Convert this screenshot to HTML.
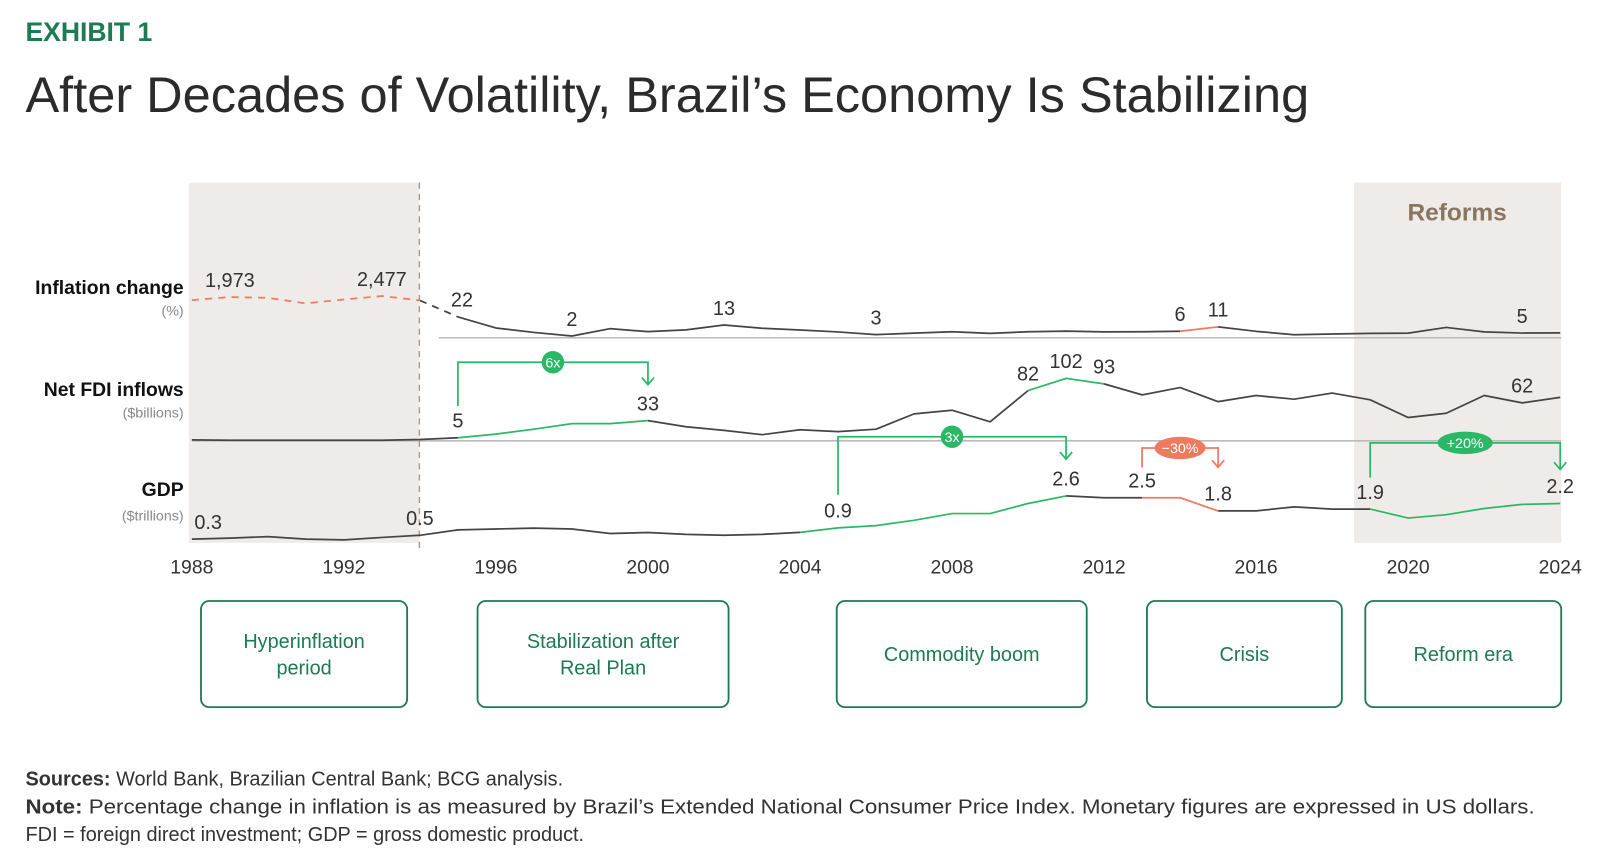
<!DOCTYPE html>
<html><head><meta charset="utf-8"><style>
html,body{margin:0;padding:0;background:#fff;}
svg{display:block;font-family:"Liberation Sans",sans-serif;}
</style></head><body>
<svg id="chart" width="1600" height="862" viewBox="0 0 1600 862">
<g transform="scale(1.0204)">
<text x="25" y="40" font-size="26" font-weight="bold" fill="#1e7a52">EXHIBIT 1</text>
<text x="25" y="110" font-size="49" fill="#2b2b2b" textLength="1258" lengthAdjust="spacingAndGlyphs">After Decades of Volatility, Brazil’s Economy Is Stabilizing</text>
<rect x="185" y="179" width="226" height="353" fill="#efebe8"/>
<rect x="1327" y="179" width="203" height="353" fill="#efebe8"/>
<text x="1428" y="216" font-size="24" font-weight="bold" fill="#8a7560" text-anchor="middle">Reforms</text>
<line x1="430" y1="331" x2="1530" y2="331" stroke="#bbb" stroke-width="1.5"/>
<line x1="188" y1="432" x2="1530" y2="432" stroke="#bbb" stroke-width="1.5"/>
<line x1="411" y1="179" x2="411" y2="540" stroke="#999" stroke-width="1.3" stroke-dasharray="6,5"/>
<g font-size="19" fill="#111" text-anchor="end">
<text x="180" y="288" font-weight="bold">Inflation change</text>
<text x="180" y="309" font-size="14" fill="#888">(%)</text>
<text x="180" y="388" font-weight="bold">Net FDI inflows</text>
<text x="180" y="409" font-size="14" fill="#888">($billions)</text>
<text x="180" y="486" font-weight="bold">GDP</text>
<text x="180" y="510" font-size="14" fill="#888">($trillions)</text>
</g>
<g id="series"></g>
<g id="annots"></g>
<g id="xaxis"></g>
<g id="boxes"></g>
<g font-size="19.5" fill="#333">
<text x="25" y="770"><tspan font-weight="bold">Sources:</tspan> World Bank, Brazilian Central Bank; BCG analysis.</text>
<text x="25" y="797" textLength="1479" lengthAdjust="spacingAndGlyphs"><tspan font-weight="bold">Note:</tspan> Percentage change in inflation is as measured by Brazil’s Extended National Consumer Price Index. Monetary figures are expressed in US dollars.</text>
<text x="25" y="824">FDI = foreign direct investment; GDP = gross domestic product.</text>
</g>
</g>
</svg>
<script>
const years = [1988,1989,1990,1991,1992,1993,1994,1995,1996,1997,1998,1999,2000,2001,2002,2003,2004,2005,2006,2007,2008,2009,2010,2011,2012,2013,2014,2015,2016,2017,2018,2019,2020,2021,2022,2023,2024];
const inflation = [980,1973,1621,472,1119,2477,916,22,9.6,5.2,1.7,8.9,6,7.7,12.5,9.3,7.6,5.7,3.1,4.5,5.9,4.3,5.9,6.5,5.8,5.9,6.4,10.7,6.3,2.9,3.7,4.3,4.5,10.1,5.8,4.6,4.8];
const fdi = [1.5,1,1,1,1,1,2.2,5,11,19,28,28,33,23,17,10,18,15,19,44,50,31,82,102,93,75,87,64,74,68,78,67,38,45,74,62,71];
const gdp = [0.3,0.35,0.43,0.3,0.26,0.39,0.5,0.79,0.84,0.88,0.84,0.6,0.65,0.55,0.51,0.55,0.66,0.9,1.02,1.3,1.66,1.66,2.2,2.6,2.5,2.5,2.5,1.8,1.8,2.02,1.9,1.9,1.42,1.6,1.93,2.15,2.2];
const xTicks = [1988,1992,1996,2000,2004,2008,2012,2016,2020,2024];
const inflationLabels = [[1989,"1,973"],[1993,"2,477"],[1995,"22"],[1998,"2"],[2002,"13"],[2006,"3"],[2014,"6"],[2015,"11"],[2023,"5"]];
const fdiLabels = [[1995,"5"],[2000,"33"],[2010,"82"],[2011,"102"],[2012,"93"],[2023,"62"]];
const gdpLabels = [[1988,"0.3"],[1994,"0.5"],[2005,"0.9"],[2011,"2.6"],[2013,"2.5"],[2015,"1.8"],[2019,"1.9"],[2024,"2.2"]];
const phases = [["Hyperinflation","period"],["Stabilization after","Real Plan"],["Commodity boom"],["Crisis"],["Reform era"]];

const NS="http://www.w3.org/2000/svg";
const X = y => 188 + (y-1988)*(1529-188)/36;
const Yinf = v => 331 - (v<=20 ? v : 20 + 10*Math.log10(v/20));
const Yfdi = v => 432 - v*0.6;
const Ygdp = v => 532 - (v-0.1)*18.4;
function mk(tag, attrs, parent){const e=document.createElementNS(NS,tag);for(const k in attrs)e.setAttribute(k,attrs[k]);parent.appendChild(e);return e;}
const series=document.getElementById('series');
function path(vals, yf, y0, y1){
  let d="";years.forEach((yr,i)=>{if(yr>=y0&&yr<=y1)d+=(d?"L":"M")+X(yr).toFixed(1)+","+yf(vals[i]).toFixed(1);});return d;
}
function drawSeries(name, vals, yf, segs, labels){
  segs.forEach(s=>{
    const p=mk('path',{d:path(vals,yf,s[0],s[1]),fill:'none',stroke:s[2],'stroke-width':1.7,'stroke-linejoin':'round'},series);
    if(s[3])p.setAttribute('stroke-dasharray',s[3]);
    
    
  });
  labels.forEach(l=>{
    const i=years.indexOf(l[0]);
    const dx=(l[0]===1995&&name==='inflation')?4:(l[0]===1988?16:0);
    const t=mk('text',{x:X(l[0])+dx,y:yf(vals[i])-10,'font-size':19.5,fill:'#333','text-anchor':'middle'},series);
    t.textContent=l[1];
    
    
  });
}
const G='#2bb866',R='#ee7a5f',K='#444';
drawSeries('inflation',inflation,Yinf,[[1988,1994,R,'7,6'],[1994,1995,K,'7,6'],[1995,2014,K],[2014,2015,R],[2015,2024,K]],inflationLabels);
drawSeries('fdi',fdi,Yfdi,[[1988,1995,K],[1995,2000,G],[2000,2010,K],[2010,2012,G],[2012,2024,K]],fdiLabels);
drawSeries('gdp',gdp,Ygdp,[[1988,2004,K],[2004,2011,G],[2011,2013,K],[2013,2015,R],[2015,2019,K],[2019,2024,G]],gdpLabels);

const ann=document.getElementById('annots');
function bracket(name,y0,y1,yStart,yTop,yEnd,color,label,rw){
  const x0=X(y0),x1=X(y1);
  const p=mk('path',{d:`M${x0},${yStart}V${yTop}H${x1}V${yEnd}M${x1-6},${yEnd-7}L${x1},${yEnd}L${x1+6},${yEnd-7}`,fill:'none',stroke:color,'stroke-width':1.7},ann);
  
  
  const cx=(x0+x1)/2;
  const e=mk('ellipse',{cx:cx,cy:yTop,rx:rw,ry:11,fill:color},ann);
  
  
  const t=mk('text',{x:cx,y:yTop+5,'font-size':14,fill:'#fff','text-anchor':'middle'},ann);
  t.textContent=label;
  
  
}
bracket('fdi-growth',1995,2000,398,355,377,G,'6x',11);
bracket('gdp-boom',2005,2011,485,428,450,G,'3x',11);
bracket('gdp-crisis',2013,2015,458,439,458,R,'\u221230%',25);
bracket('gdp-reform',2019,2024,468,434,460,G,'+20%',27);

const xa=document.getElementById('xaxis');
xTicks.forEach(y=>{
  const t=mk('text',{x:X(y),y:562,'font-size':19,fill:'#333','text-anchor':'middle'},xa);
  t.textContent=y;
  
  
});
const bx=document.getElementById('boxes');
const boxGeom=[[197,202],[468,246],[820,245],[1124,191],[1338,192]];
phases.forEach((lines,i)=>{
  const [x,w]=boxGeom[i];
  const r=mk('rect',{x:x,y:589,width:w,height:104,rx:8,fill:'#fff',stroke:'#1e7a52','stroke-width':1.8},bx);
  
  
  lines.forEach((ln,j)=>{
    const yy=lines.length===1?648:635+j*26;
    const t=mk('text',{x:x+w/2,y:yy,'font-size':19.5,fill:'#1e7a52','text-anchor':'middle'},bx);
    t.textContent=ln;
    
    
  });
});
</script>
</body></html>
